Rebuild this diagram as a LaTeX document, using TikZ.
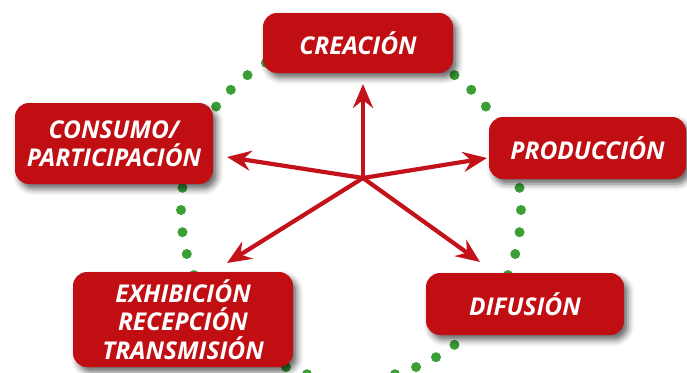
\documentclass[tikz,border=0pt]{standalone}
\usepackage{fontspec}
\setmainfont{Open Sans}
\usetikzlibrary{arrows.meta,shadows.blur,calc}
\definecolor{boxred}{HTML}{C00E12}
\definecolor{arrred}{HTML}{C4121A}
\definecolor{dotgreen}{HTML}{3AA036}
\tikzset{
  stagebox/.style={rectangle, rounded corners=14pt, fill=boxred, text=white,
    align=center, inner sep=0pt,
    font=\fontsize{24.5}{28.5}\selectfont\bfseries\itshape,
    blur shadow={shadow xshift=4pt, shadow yshift=-5pt, shadow blur radius=6pt, shadow opacity=60}},
  flowarrow/.style={draw=arrred, line width=4.2pt,
    -{Stealth[length=24pt,width=20pt,inset=8pt]}},
  dot/.style={fill=dotgreen}
}
\begin{document}
\begin{tikzpicture}[x=1pt,y=-1pt]
\useasboundingbox (0,0) rectangle (687,372);
% dotted circle
\foreach \a in {0,...,47}{
  \fill[dot] ($(351,210)+({217.5+7.5*\a}:170)$) circle (5);
}
% boxes
\node[stagebox, minimum width=190pt, minimum height=60pt] (crea) at (358,43) {CREACIÓN};
\node[stagebox, minimum width=198pt, minimum height=81pt] (cons) at (114,143.5) {CONSUMO/\\PARTICIPACIÓN};
\node[stagebox, minimum width=197pt, minimum height=62pt] (prod) at (587.5,148) {PRODUCCIÓN};
\node[stagebox, minimum width=220pt, minimum height=95pt] (exhi) at (183,319.5) {EXHIBICIÓN\\RECEPCIÓN\\TRANSMISIÓN};
\node[stagebox, minimum width=198pt, minimum height=62pt] (difu) at (525,304) {DIFUSIÓN};
% arrows
\coordinate (hub) at (363,178);
\coordinate (tcrea) at (363,84);
\coordinate (tcons) at (227,157);
\coordinate (tprod) at (487,158);
\coordinate (texhi) at (227,263);
\coordinate (tdifu) at (480,262);
\draw[flowarrow] (hub) -- (tcrea);
\draw[flowarrow] (hub) -- (tcons);
\draw[flowarrow] (hub) -- (tprod);
\draw[flowarrow] (hub) -- (texhi);
\draw[flowarrow] (hub) -- (tdifu);
\end{tikzpicture}
\end{document}
